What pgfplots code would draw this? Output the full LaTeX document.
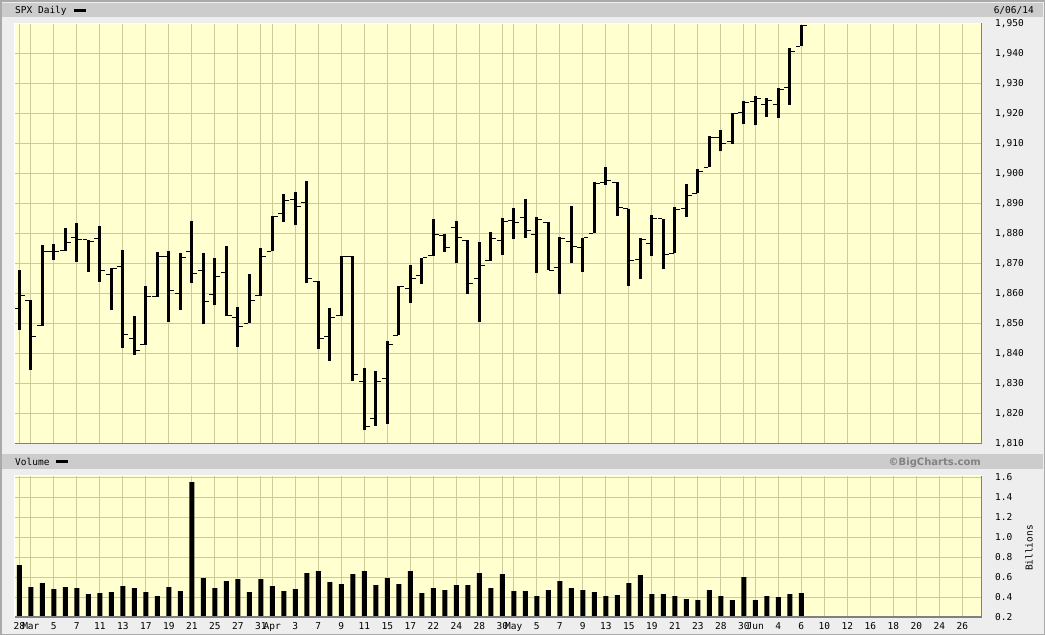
\documentclass[border=0pt]{standalone}
\usepackage{fontspec}
\usepackage{pgfplots}
\usepackage{pgfplotstable}
\pgfplotsset{compat=1.18}

\newfontfamily\monof{DejaVu Sans Mono}
\newfontfamily\sansf{DejaVu Sans}
\newcommand\labfont{\monof\fontsize{9.5}{11}\selectfont}

\definecolor{plotbg}{RGB}{255,255,208}
\definecolor{gridc}{RGB}{204,204,153}
\definecolor{panelbg}{RGB}{238,238,238}
\definecolor{headbg}{RGB}{204,204,204}
\definecolor{framec}{RGB}{170,170,170}
\definecolor{edgec}{RGB}{128,128,128}
\definecolor{wmark}{RGB}{130,130,130}

% open tick to the left, close tick to the right
\pgfdeclareplotmark{otick}{\pgfpathmoveto{\pgfqpoint{-5.5pt}{0pt}}\pgfpathlineto{\pgfqpoint{-1pt}{0pt}}\pgfusepathqstroke}
\pgfdeclareplotmark{ctick}{\pgfpathmoveto{\pgfqpoint{1pt}{0pt}}\pgfpathlineto{\pgfqpoint{5.5pt}{0pt}}\pgfusepathqstroke}

% SPX daily, 28 Feb - 6 Jun 2014 (trading-day index)
\pgfplotstableread{
i o h l c
0 1855.1 1867.9 1847.7 1859.4
1 1857.7 1857.7 1834.4 1845.7
2 1849.2 1876.2 1849.2 1873.9
3 1874.0 1876.5 1871.1 1873.8
4 1874.2 1881.9 1874.2 1877.0
5 1878.5 1883.6 1870.6 1878.0
6 1877.9 1877.9 1867.0 1877.2
7 1878.3 1882.4 1863.9 1867.6
8 1866.2 1868.4 1854.4 1868.2
9 1869.1 1874.4 1841.9 1846.3
10 1845.1 1852.4 1839.6 1841.1
11 1842.8 1862.3 1842.8 1858.8
12 1858.9 1873.8 1858.9 1872.3
13 1872.3 1874.1 1850.4 1860.8
14 1860.1 1873.5 1854.6 1872.0
15 1874.1 1884.0 1863.5 1866.5
16 1867.7 1873.3 1849.7 1857.4
17 1859.5 1871.9 1856.0 1865.6
18 1867.1 1875.9 1852.6 1852.6
19 1852.1 1855.6 1842.1 1849.0
20 1850.1 1866.6 1850.1 1857.6
21 1859.2 1875.2 1859.2 1872.3
22 1874.0 1885.8 1874.0 1885.5
23 1886.6 1893.2 1883.8 1890.9
24 1891.4 1893.8 1882.7 1888.8
25 1890.3 1897.3 1863.3 1865.1
26 1863.9 1864.0 1841.5 1845.0
27 1845.5 1855.0 1837.5 1852.0
28 1852.6 1872.4 1852.4 1872.2
29 1872.3 1872.5 1830.9 1833.1
30 1830.7 1835.1 1814.4 1815.7
31 1818.2 1834.2 1815.8 1830.6
32 1831.5 1844.0 1816.3 1843.0
33 1846.0 1862.3 1846.0 1862.3
34 1861.7 1869.6 1856.7 1864.9
35 1865.8 1871.9 1863.2 1871.9
36 1872.6 1884.9 1872.6 1879.6
37 1879.3 1879.8 1873.9 1875.4
38 1882.0 1884.1 1870.2 1878.6
39 1877.7 1877.7 1859.7 1863.4
40 1865.0 1877.0 1850.6 1869.4
41 1870.8 1880.6 1870.8 1878.3
42 1877.6 1885.2 1872.7 1884.0
43 1884.4 1888.6 1878.0 1883.7
44 1885.3 1891.3 1878.5 1881.1
45 1879.5 1885.5 1866.8 1884.7
46 1883.7 1883.7 1867.7 1867.7
47 1868.5 1878.8 1859.8 1878.2
48 1877.4 1889.1 1870.1 1875.6
49 1875.3 1878.6 1867.0 1878.5
50 1880.0 1897.1 1880.0 1896.7
51 1896.8 1902.2 1896.1 1897.5
52 1897.1 1897.1 1885.8 1888.5
53 1888.2 1888.2 1862.4 1870.9
54 1871.2 1878.3 1864.8 1877.9
55 1876.7 1886.0 1872.4 1885.1
56 1884.9 1884.9 1868.1 1872.8
57 1873.3 1888.8 1873.3 1888.0
58 1888.2 1896.3 1885.4 1892.5
59 1893.3 1901.3 1893.3 1900.5
60 1902.0 1912.3 1902.0 1911.9
61 1911.8 1914.5 1907.3 1909.8
62 1910.6 1920.0 1909.8 1920.0
63 1920.3 1924.0 1916.6 1923.6
64 1923.9 1925.9 1916.0 1925.0
65 1923.1 1925.1 1918.8 1924.2
66 1923.1 1928.6 1918.6 1927.9
67 1928.5 1941.7 1922.9 1940.5
68 1942.4 1949.4 1942.4 1949.4
}\ohlc

% volume, billions
\pgfplotstableread{
i v
0 0.72
1 0.50
2 0.54
3 0.48
4 0.50
5 0.49
6 0.43
7 0.44
8 0.45
9 0.51
10 0.49
11 0.45
12 0.41
13 0.50
14 0.46
15 1.55
16 0.59
17 0.49
18 0.56
19 0.58
20 0.45
21 0.58
22 0.51
23 0.46
24 0.48
25 0.64
26 0.66
27 0.55
28 0.53
29 0.63
30 0.66
31 0.52
32 0.59
33 0.53
34 0.66
35 0.44
36 0.49
37 0.47
38 0.52
39 0.52
40 0.64
41 0.49
42 0.63
43 0.46
44 0.46
45 0.41
46 0.47
47 0.56
48 0.49
49 0.47
50 0.45
51 0.41
52 0.42
53 0.54
54 0.62
55 0.43
56 0.43
57 0.41
58 0.38
59 0.37
60 0.47
61 0.41
62 0.37
63 0.60
64 0.37
65 0.41
66 0.40
67 0.43
68 0.44
}\vol

\pgfplotsset{
  bcpanel/.style={
    scale only axis, width=967pt,
    xmin=-0.42, xmax=83.67,
    axis background/.style={fill=plotbg},
    axis line style={draw=none},
    grid=major, major grid style={draw=gridc, line width=1pt},
    major tick length=0pt,
    xtick={0,1,3,5,7,9,11,13,15,17,19,21,22,24,26,28,30,32,34,36,38,40,42,43,45,47,49,51,53,55,57,59,61,63,64,66,68,70,72,74,76,78,80,82},
    tick label style={font=\labfont},
    ytick pos=right, yticklabel pos=right,
    yticklabel style={anchor=west, inner sep=0pt, xshift=13.5pt},
  }
}

\begin{document}
\begin{tikzpicture}[x=1pt,y=-1pt]
\useasboundingbox (0,0) rectangle (1045,635);
\fill[panelbg] (0,0) rectangle (1045,635);
\draw[framec, line width=1.5pt] (0.75,0.75) rectangle (1044.25,634.25);
\fill[headbg] (2,2.5) rectangle (1043,17);
\fill[headbg] (2,453.5) rectangle (1043,468.5);

\node[anchor=base west, inner sep=0pt, font=\labfont] at (15,13.3) {SPX Daily};
\fill[black] (74,8.5) rectangle (86,11.5);
\node[anchor=base east, inner sep=0pt, font=\labfont] at (1034,13.3) {6/06/14};
\node[anchor=base west, inner sep=0pt, font=\labfont] at (15,465) {Volume};
\fill[black] (56,460.3) rectangle (68,463);
\node[anchor=base east, inner sep=0pt, text=wmark, font=\sansf\bfseries\fontsize{10}{11}\selectfont] at (981,465.5) {©BigCharts.com};
\node[rotate=90, inner sep=0pt, font=\labfont] at (1029,548) {Billions};

\begin{axis}[bcpanel, name=price,
    at={(14.5pt,-443.3pt)}, anchor=south west, height=420.3pt,
    ymin=1810, ymax=1950.1,
    ytick={1810,1820,1830,1840,1850,1860,1870,1880,1890,1900,1910,1920,1930,1940,1950},
    yticklabels={{1,810},{1,820},{1,830},{1,840},{1,850},{1,860},{1,870},{1,880},{1,890},{1,900},{1,910},{1,920},{1,930},{1,940},{1,950}},
    xticklabels={}]
  \addplot [only marks, mark=otick, mark options={black, line width=1pt}] table [x=i, y=o] {\ohlc};
  \addplot [only marks, mark=ctick, mark options={black, line width=1pt}] table [x=i, y=c] {\ohlc};
  \addplot [draw=none, mark=none, error bars/.cd, y dir=plus, y explicit, error mark=none,
            error bar style={draw=black, line width=3pt}]
    table [x=i, y=l, y error expr=\thisrow{h}-\thisrow{l}] {\ohlc};
\end{axis}

\begin{axis}[bcpanel, name=vol,
    at={(14.5pt,-617pt)}, anchor=south west, height=141.5pt,
    ymin=0.2, ymax=1.615,
    ytick={0.2,0.4,0.6,0.8,1.0,1.2,1.4,1.6},
    yticklabels={0.2,0.4,0.6,0.8,1.0,1.2,1.4,1.6},
    xticklabels={28,Mar,5,7,11,13,17,19,21,25,27,31,Apr,3,7,9,11,15,17,22,24,28,30,May,5,7,9,13,15,19,21,23,28,30,Jun,4,6,10,12,16,18,20,24,26},
    xticklabel style={anchor=base, inner sep=0pt, yshift=-12pt}]
  \addplot [ybar, bar width=5pt, fill=black, draw=none] table [x=i, y=v] {\vol};
\end{axis}

\draw[white, line width=1pt] (price.south west) -- (price.north west) -- (price.north east);
\draw[edgec, line width=1.5pt] (price.south west) -- (price.south east) -- (price.north east);
\draw[white, line width=1pt] (vol.south west) -- (vol.north west) -- (vol.north east);
\draw[edgec, line width=1.5pt] (vol.south west) -- (vol.south east) -- (vol.north east);
\end{tikzpicture}
\end{document}
